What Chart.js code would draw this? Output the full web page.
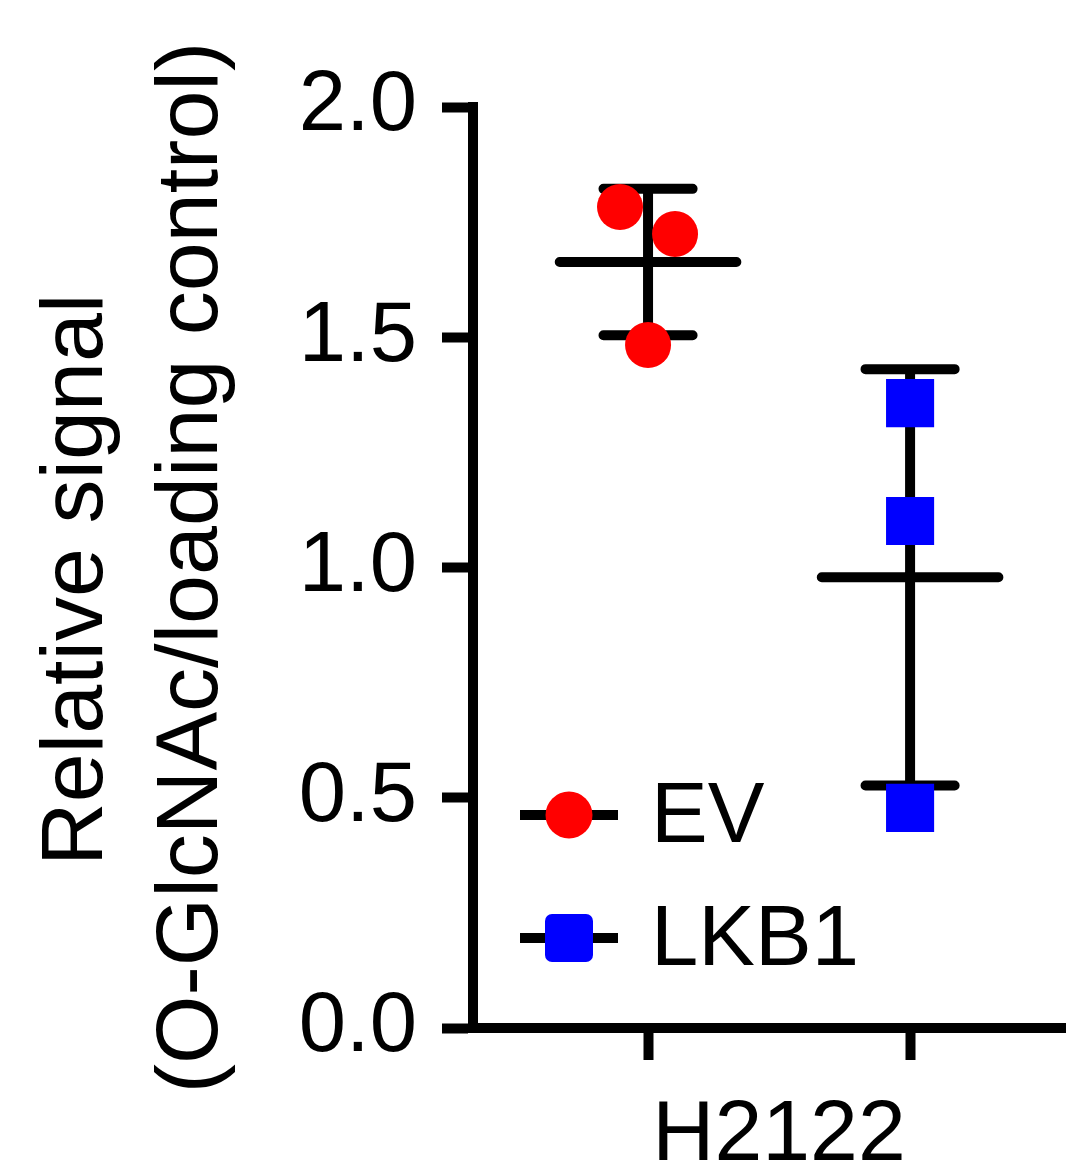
<!DOCTYPE html>
<html>
<head>
<meta charset="utf-8">
<script src="https://cdn.jsdelivr.net/npm/chart.js@4.4.1/dist/chart.umd.min.js"></script>
<style>
    html, body { margin: 0; padding: 0; background: #fff; }
    #wrap { width: 1066px; height: 1171px; }
</style>
</head>
<body>
<div id="wrap"><canvas id="chart" width="1066" height="1171"></canvas></div>
<script>
// valores
const grupos = ['EV', 'LKB1'];
const lineaCelular = 'H2122';
const posGrupos = [1, 2];
const valoresEV = [1.783, 1.724, 1.483];
const jitterEV = [-0.107, 0.103, 0];
const valoresLKB1 = [1.357, 1.101, 0.478];
const jitterLKB1 = [0, 0, 0];
const ticksY = [0, 0.5, 1.0, 1.5, 2.0];
const tituloY = ['Relative signal ', '(O-GlcNAc/loading control)'];

const FUENTE = '"Liberation Sans", Arial, sans-serif';
const colores = ['#ff0000', '#0000ff'];

function media(arr) {
    return arr.reduce((s, v) => s + v, 0) / arr.length;
}
function desviacion(arr) {
    const m = media(arr);
    return Math.sqrt(arr.reduce((s, v) => s + (v - m) * (v - m), 0) / (arr.length - 1));
}

// media +/- SD como lineas (segmentos separados con null)
function barrasError(valores, centro) {
    const m = media(valores);
    const sd = desviacion(valores);
    const anchoMedia = 0.337;
    const anchoCap = 0.17;
    return {
        type: 'scatter',
        showLine: true,
        spanGaps: false,
        data: [
            { x: centro - anchoMedia, y: m }, { x: centro + anchoMedia, y: m }, { x: centro, y: null },
            { x: centro - anchoCap, y: m + sd }, { x: centro + anchoCap, y: m + sd }, { x: centro, y: null },
            { x: centro - anchoCap, y: m - sd }, { x: centro + anchoCap, y: m - sd }, { x: centro, y: null },
            { x: centro, y: m + sd }, { x: centro, y: m - sd }
        ],
        borderColor: '#000',
        borderWidth: 10,
        borderCapStyle: 'round',
        pointRadius: 0,
        order: 5
    };
}

const puntosEV = valoresEV.map((v, i) => ({ x: posGrupos[0] + jitterEV[i], y: v }));
const puntosLKB1 = valoresLKB1.map((v, i) => ({ x: posGrupos[1] + jitterLKB1[i], y: v }));

const leyendaInterna = {
    id: 'leyendaInterna',
    afterDatasetsDraw(chart) {
        const { ctx, chartArea } = chart;
        const x0 = chartArea.left + 47;
        const x1 = chartArea.left + 145;
        const xm = (x0 + x1) / 2;
        const filas = [chartArea.top + 708, chartArea.top + 831];
        ctx.save();
        grupos.forEach((g, i) => {
            const y = filas[i];
            ctx.strokeStyle = '#000';
            ctx.lineWidth = 10;
            ctx.beginPath();
            ctx.moveTo(x0, y);
            ctx.lineTo(x1, y);
            ctx.stroke();
            ctx.fillStyle = colores[i];
            ctx.beginPath();
            if (i === 0) {
                ctx.arc(xm, y, 23.5, 0, Math.PI * 2);
            } else {
                ctx.roundRect(xm - 24, y - 24, 48, 48, 7);
            }
            ctx.fill();
            ctx.fillStyle = '#000';
            ctx.font = '85px ' + FUENTE;
            ctx.textAlign = 'left';
            ctx.textBaseline = 'middle';
            ctx.fillText(g, x1 + 33, y + 4);
        });
        ctx.restore();
    }
};

const ctx = document.getElementById('chart').getContext('2d');
new Chart(ctx, {
    type: 'scatter',
    data: {
        datasets: [
            {
                label: grupos[0],
                data: puntosEV,
                pointStyle: 'circle',
                pointRadius: 23,
                backgroundColor: colores[0],
                borderWidth: 0,
                order: 1
            },
            {
                label: grupos[1],
                data: puntosLKB1,
                pointStyle: 'rect',
                pointRadius: 34,
                backgroundColor: colores[1],
                borderWidth: 0,
                order: 1
            },
            barrasError(valoresEV, posGrupos[0]),
            barrasError(valoresLKB1, posGrupos[1])
        ]
    },
    options: {
        responsive: false,
        animation: false,
        events: [],
        layout: { autoPadding: false, padding: { top: 107, right: 0, bottom: 0, left: 0 } },
        plugins: {
            legend: { display: false },
            tooltip: { enabled: false }
        },
        scales: {
            x: {
                type: 'linear',
                min: 0.332,
                max: 2.595,
                afterFit: s => { s.height = 143; },
                afterBuildTicks: s => {
                    s.ticks = [posGrupos[0], (posGrupos[0] + posGrupos[1]) / 2, posGrupos[1]].map(v => ({ value: v }));
                },
                ticks: {
                    autoSkip: false,
                    maxRotation: 0,
                    padding: 33,
                    color: '#000',
                    font: { family: FUENTE, size: 86, lineHeight: 1 },
                    callback: v => (v === (posGrupos[0] + posGrupos[1]) / 2 ? lineaCelular : '')
                },
                grid: {
                    drawOnChartArea: false,
                    drawTicks: true,
                    tickLength: 32,
                    tickWidth: 10,
                    tickColor: c => (c.tick && c.tick.value === (posGrupos[0] + posGrupos[1]) / 2 ? 'rgba(0,0,0,0)' : '#000')
                },
                border: { display: true, width: 10, color: '#000' }
            },
            y: {
                type: 'linear',
                min: ticksY[0],
                max: ticksY[ticksY.length - 1],
                afterFit: s => { s.width = 473; },
                afterBuildTicks: s => { s.ticks = ticksY.map(v => ({ value: v })); },
                ticks: {
                    padding: 25,
                    color: '#000',
                    font: { family: FUENTE, size: 85 },
                    callback: v => v.toFixed(1)
                },
                grid: {
                    drawOnChartArea: false,
                    drawTicks: true,
                    tickLength: 31,
                    tickWidth: 10,
                    tickColor: '#000'
                },
                border: { display: true, width: 10, color: '#000' },
                title: {
                    display: true,
                    text: tituloY,
                    color: '#000',
                    font: { family: FUENTE, size: 88, lineHeight: 1.31 },
                    padding: { top: 20, bottom: 0 }
                }
            }
        }
    },
    plugins: [leyendaInterna]
});
</script>
</body>
</html>
